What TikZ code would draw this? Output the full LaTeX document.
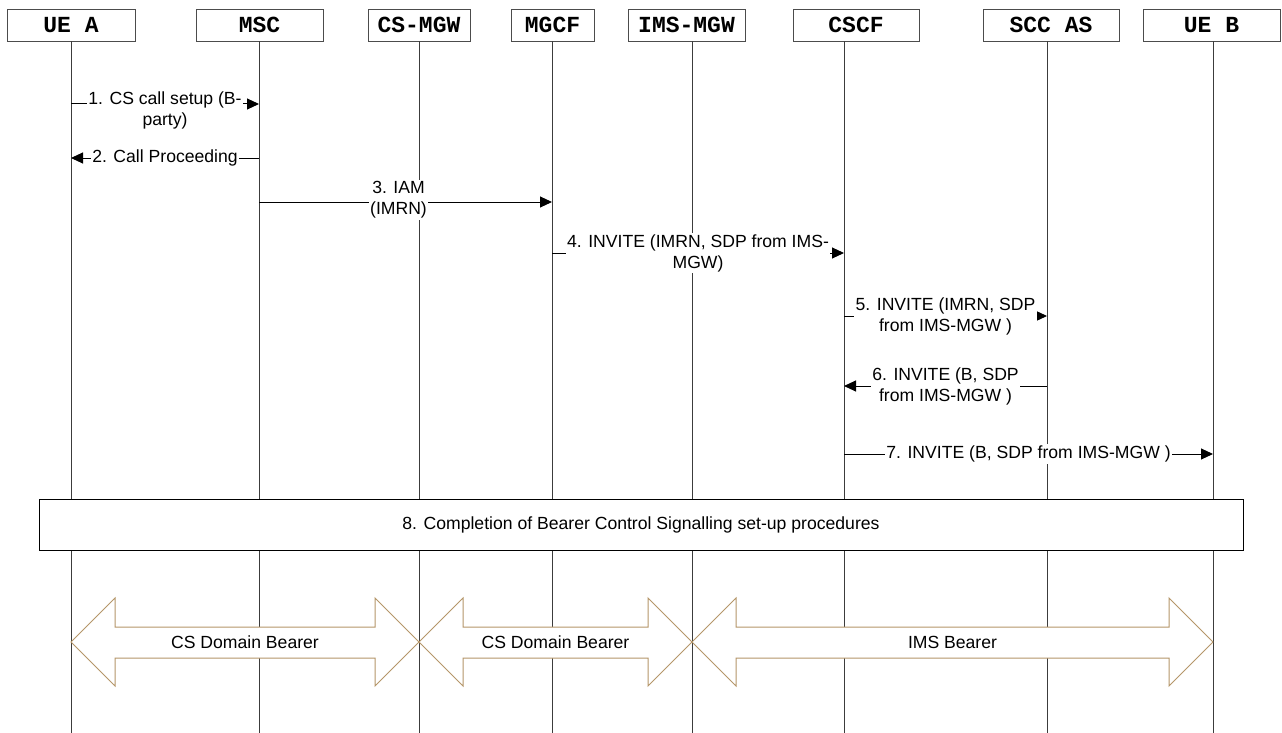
\documentclass[tikz,border=0pt]{standalone}
\usepackage{fontspec}
\setmainfont{Liberation Sans}
\newfontfamily\hdrfont{Liberation Mono}
\usetikzlibrary{arrows.meta}
\definecolor{bearer}{RGB}{181,150,105}
\definecolor{lifegray}{RGB}{60,60,60}

\begin{document}
\begin{tikzpicture}[x=1pt, y=-1pt,
    entity/.style={rectangle, draw=black!70, fill=white, line width=0.9pt, minimum height=32pt, inner sep=0pt, font=\hdrfont\bfseries\fontsize{23}{26}\selectfont},
    life/.style={draw=lifegray, line width=1pt},
    msg/.style={-{Triangle[length=12pt, width=11pt]}, line width=1pt},
    lbl/.style={fill=white, inner sep=1.5pt, align=center, font=\fontsize{17.6}{21}\selectfont},
    proc/.style={rectangle, draw=black, fill=white, line width=1pt, minimum height=51pt, minimum width=1204pt, font=\fontsize{17.6}{21}\selectfont},
    bearerarrow/.style={draw=bearer, fill=white, line width=1pt}
]
    \useasboundingbox (0,0) rectangle (1282,733);

    % entities
    \node[entity, minimum width=128pt] (ueA) at (71,25) {UE A};
    \node[entity, minimum width=127pt] (msc) at (259.5,25) {MSC};
    \node[entity, minimum width=102pt] (csmgw) at (419,25) {CS-MGW};
    \node[entity, minimum width=83pt] (mgcf) at (552.5,25) {MGCF};
    \node[entity, minimum width=117pt] (imsmgw) at (686.5,25) {IMS-MGW};
    \node[entity, minimum width=126pt] (cscf) at (856,25) {CSCF};
    \node[entity, minimum width=136pt] (sccas) at (1051,25) {SCC AS};
    \node[entity, minimum width=137pt] (ueB) at (1211.5,25) {UE B};

    % lifelines
    \coordinate (ueA-end) at (71,733);
    \coordinate (msc-end) at (259,733);
    \coordinate (csmgw-end) at (419,733);
    \coordinate (mgcf-end) at (552,733);
    \coordinate (imsmgw-end) at (692,733);
    \coordinate (cscf-end) at (844,733);
    \coordinate (sccas-end) at (1047,733);
    \coordinate (ueB-end) at (1213,733);

    \draw[life] (ueA-end |- ueA.south) -- (ueA-end);
    \draw[life] (msc-end |- msc.south) -- (msc-end);
    \draw[life] (csmgw-end |- csmgw.south) -- (csmgw-end);
    \draw[life] (mgcf-end |- mgcf.south) -- (mgcf-end);
    \draw[life] (imsmgw-end |- imsmgw.south) -- (imsmgw-end);
    \draw[life] (cscf-end |- cscf.south) -- (cscf-end);
    \draw[life] (sccas-end |- sccas.south) -- (sccas-end);
    \draw[life] (ueB-end |- ueB.south) -- (ueB-end);

    % messages
    \draw[msg] (ueA-end |- 0,104) -- node[lbl, yshift=-6pt] (m1) {1. CS call setup (B-\\party)} (msc-end |- 0,104);
    \draw[msg] (msc-end |- 0,158) -- node[lbl] (m2) {2. Call Proceeding} (ueA-end |- 0,158);
    \draw[msg] (msc-end |- 0,202) -- node[lbl, xshift=-7pt, yshift=2pt] (m3) {3. IAM\\(IMRN)} (mgcf-end |- 0,202);
    \draw[msg] (mgcf-end |- 0,253) -- node[lbl] (m4) {4. INVITE (IMRN, SDP from IMS-\\MGW)} (cscf-end |- 0,253);
    \draw[msg] (cscf-end |- 0,316) -- node[lbl] (m5) {5. INVITE (IMRN, SDP\\from IMS-MGW )} (sccas-end |- 0,316);
    \draw[msg] (sccas-end |- 0,386) -- node[lbl] (m6) {6. INVITE (B, SDP\\from IMS-MGW )} (cscf-end |- 0,386);
    \draw[msg] (cscf-end |- 0,454) -- node[lbl] (m7) {7. INVITE (B, SDP from IMS-MGW )} (ueB-end |- 0,454);

    % bearer control box
    \node[proc] (setup) at (641,524.5) {8. Completion of Bearer Control Signalling set-up procedures};

    % bearers
    \draw[bearerarrow] (71,642) -- (115,598) -- (115,627) -- (375,627) -- (375,598) -- (419,642)
        -- (375,686) -- (375,658) -- (115,658) -- (115,686) -- cycle;
    \node[lbl, fill=none] (csb1) at (245,642) {CS Domain Bearer};
    \draw[bearerarrow] (419,642) -- (463,598) -- (463,627) -- (648,627) -- (648,598) -- (692,642)
        -- (648,686) -- (648,658) -- (463,658) -- (463,686) -- cycle;
    \node[lbl, fill=none] (csb2) at (555.5,642) {CS Domain Bearer};
    \draw[bearerarrow] (692,642) -- (736,598) -- (736,627) -- (1169,627) -- (1169,598) -- (1213,642)
        -- (1169,686) -- (1169,658) -- (736,658) -- (736,686) -- cycle;
    \node[lbl, fill=none] (imsb) at (952.5,642) {IMS Bearer};
\end{tikzpicture}
\end{document}
